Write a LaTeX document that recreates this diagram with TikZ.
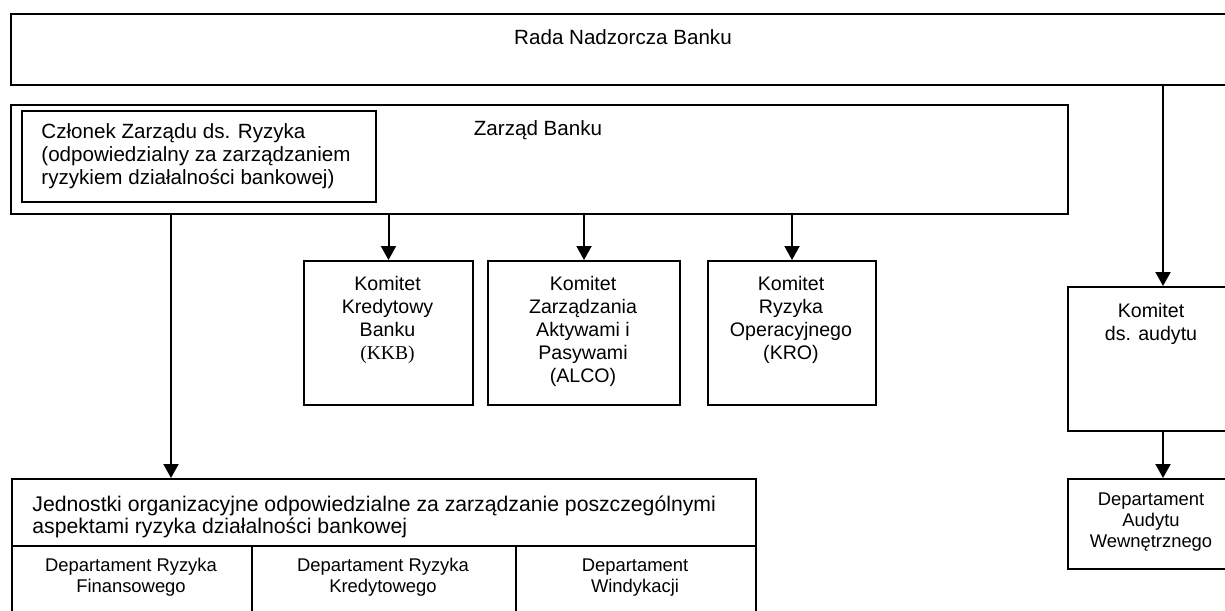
\documentclass[tikz,border=0pt]{standalone}
\usepackage{fontspec}
\setmainfont{Liberation Sans}
\newfontfamily\szeryf{Liberation Serif}
\usetikzlibrary{arrows.meta}

\begin{document}
\begin{tikzpicture}[x=0.5pt,y=-0.5pt,
  ramka/.style={draw,line width=1pt,inner sep=0pt,anchor=north west},
  napis/.style={inner sep=0pt,font=\fontsize{10.3}{11.5}\selectfont},
  komitet/.style={inner sep=0pt,align=center,anchor=north,font=\fontsize{9.8}{11.5}\selectfont},
  dzial/.style={inner sep=0pt,align=center,font=\fontsize{9.2}{10.6}\selectfont},
  strzalka/.style={line width=1pt,-{Triangle[width=7.5pt,length=7pt]}}]
\useasboundingbox (0,0) rectangle (1225,610);

\node[ramka,minimum width=617.5pt,minimum height=35.5pt] (rada) at (10,13) {};
\node[napis] (radanapis) at (623,37) {Rada Nadzorcza Banku};

\node[ramka,minimum width=528.5pt,minimum height=54.5pt] (zarzad) at (10,104) {};
\node[napis] (zarzadnapis) at (538,130) {Zarząd Banku};
\node[ramka,minimum width=177pt,minimum height=45.5pt] (czlonek) at (21,110) {};
\node[napis,align=left,anchor=west] (czloneknapis) at (41,156.5)
  {Członek Zarządu ds. Ryzyka\\(odpowiedzialny za zarządzaniem\\ryzykiem działalności bankowej)};

\node[ramka,minimum width=84.5pt,minimum height=72pt] (kkb) at (303,260) {};
\node[komitet] (kkbnapis) at (387.5,276) {Komitet\\Kredytowy\\Banku\\{\szeryf (KKB)}};
\node[ramka,minimum width=96pt,minimum height=72pt] (alco) at (487,260) {};
\node[komitet] (alconapis) at (583,276) {Komitet\\Zarządzania\\Aktywami i\\Pasywami\\(ALCO)};
\node[ramka,minimum width=84pt,minimum height=72pt] (kro) at (707,260) {};
\node[komitet] (kronapis) at (791,276) {Komitet\\Ryzyka\\Operacyjnego\\(KRO)};

\node[ramka,minimum width=86pt,minimum height=72pt] (komaud) at (1067,286) {};
\node[komitet] (komaudnapis) at (1151,303) {Komitet\\ds. audytu};
\node[ramka,minimum width=86pt,minimum height=45pt] (depaud) at (1067,478) {};
\node[dzial] (depaudnapis) at (1151,522) {Departament\\Audytu\\Wewnętrznego};

\node[ramka,minimum width=372pt,minimum height=33.5pt] (jedn) at (11,478) {};
\node[napis,align=left,anchor=west,font=\fontsize{10.6}{11.2}\selectfont] (jednnapis) at (32,517)
  {Jednostki organizacyjne odpowiedzialne za zarządzanie poszczególnymi\\aspektami ryzyka działalności bankowej};
\node[ramka,minimum width=120pt,minimum height=40pt] (depfin) at (11,545) {};
\node[dzial] (depfinnapis) at (131,577.5) {Departament Ryzyka\\Finansowego};
\node[ramka,minimum width=132pt,minimum height=40pt] (depkred) at (251,545) {};
\node[dzial] (depkrednapis) at (383,577.5) {Departament Ryzyka\\Kredytowego};
\node[ramka,minimum width=120pt,minimum height=40pt] (depwin) at (515,545) {};
\node[dzial] (depwinnapis) at (635,577.5) {Departament\\Windykacji};

\coordinate (ryzyko) at (171,213);
\coordinate (audyt) at (1163,84);

\draw[strzalka] (ryzyko) -- (ryzyko |- jedn.north);
\draw[strzalka] (kkb.north |- zarzad.south) -- (kkb.north);
\draw[strzalka] (alco.north |- zarzad.south) -- (alco.north);
\draw[strzalka] (kro.north |- zarzad.south) -- (kro.north);
\draw[strzalka] (audyt) -- (audyt |- komaud.north);
\draw[strzalka] (komaud.south -| audyt) -- (depaud.north -| audyt);
\end{tikzpicture}
\end{document}
